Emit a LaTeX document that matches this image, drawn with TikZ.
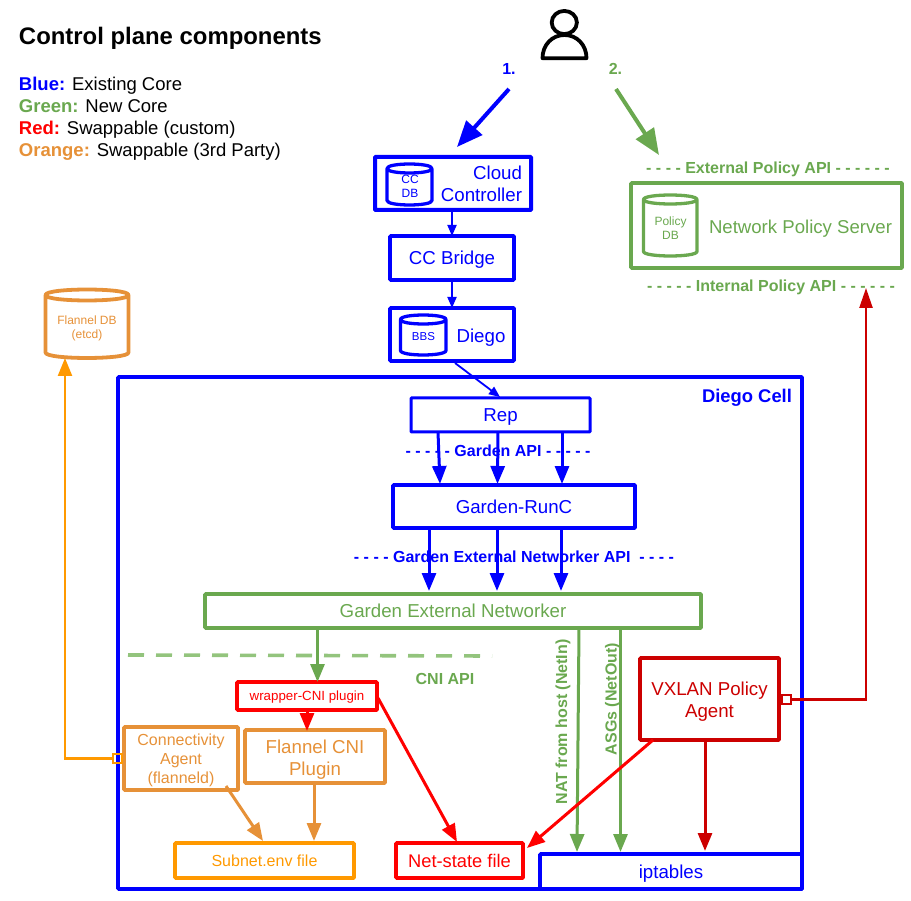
\documentclass[tikz,border=0pt]{standalone}
\usepackage{fontspec}
\setmainfont{Liberation Sans}
\usetikzlibrary{arrows.meta,calc}
\definecolor{cblue}{HTML}{0000FF}
\definecolor{cgreen}{HTML}{6AA84F}
\definecolor{lgreen}{HTML}{93C47D}
\definecolor{cred}{HTML}{FF0000}
\definecolor{dred}{HTML}{CC0000}
\definecolor{corange}{HTML}{E69138}
\definecolor{cgold}{HTML}{FF9900}
\newcommand\fs[1]{\fontsize{#1}{#1}\selectfont}
\tikzset{
  box/.style={draw=#1,text=#1,rectangle,inner sep=0pt,outer sep=0pt,anchor=north west,align=center,line width=3.6pt,rounded corners=0.8pt,font=\fs{18.7}},
  capc/.style={text height=#1pt,text depth=0pt},
  lbl/.style={text=#1,inner sep=0pt,outer sep=0pt,align=center},
  api/.style={lbl=#1,font=\fs{16}\bfseries},
  arrbig/.style={#1,line width=4pt,-{Triangle[length=26pt,width=21pt]}},
  arrmid/.style={#1,line width=3pt,-{Triangle[length=18pt,width=14pt]}},
  arrtiny/.style={#1,line width=1.8pt,-{Triangle[length=11pt,width=9pt]}},
}
% name x1 y1 x2 y2 ry colour
\newcommand\dbcyl[8]{%
  \pgfmathsetmacro\cyt{#3+#6}\pgfmathsetmacro\cyb{#5-#6}
  \pgfmathsetmacro\cyu{#3+#6-1.33*#6}\pgfmathsetmacro\cyl{#3+#6+1.33*#6}
  \pgfmathsetmacro\cyd{#5-#6+1.33*#6}
  \draw[draw=#7,line width=#8,line join=round]
    (#2,\cyt) .. controls (#2,\cyu) and (#4,\cyu) .. (#4,\cyt)
    .. controls (#4,\cyl) and (#2,\cyl) .. (#2,\cyt)
    -- (#2,\cyb) .. controls (#2,\cyd) and (#4,\cyd) .. (#4,\cyb) -- (#4,\cyt);
  \path (#2,#3) coordinate (#1nw) (#4,#5) coordinate (#1se);
}
\begin{document}
\begin{tikzpicture}[x=1pt,y=-1pt]
\useasboundingbox (0,0) rectangle (911,901);
% outer cell
\node[box=cblue,minimum width=684pt,minimum height=512pt] (cell) at (118,377) {};
% boxes
\node[box=cblue,line width=4pt,minimum width=156pt,minimum height=53pt] (cc) at (375,157) {};
\node[box=cblue,capc=13.4,minimum width=124pt,minimum height=44pt] (bridge) at (390,236) {CC Bridge};
\node[box=cblue,minimum width=124pt,minimum height=53pt] (diego) at (390,308) {};
\node[box=cblue,capc=13.4,line width=3pt,minimum width=179pt,minimum height=34pt] (rep) at (411,398) {Rep};
\node[box=cblue,capc=13.4,minimum width=242pt,minimum height=43pt] (garden) at (393,485) {Garden-RunC};
\node[box=cgreen,capc=13.4,minimum width=496pt,minimum height=34pt] (gen) at (205,594) {Garden External Networker};
\node[box=cred,capc=9.5,font=\fs{13.3},minimum width=140pt,minimum height=28pt] (wrapper) at (237,682) {wrapper-CNI plugin};
\node[box=corange,minimum width=140pt,minimum height=53pt] (flannel) at (245,730) {};
\node[box=corange,minimum width=114pt,minimum height=63pt] (conn) at (124,727) {};
\node[box=cgold,capc=11.5,font=\fs{16},minimum width=179pt,minimum height=35pt] (subnet) at (175,843) {Subnet.env file};
\node[box=cred,capc=13.1,font=\fs{18.3},minimum width=127pt,minimum height=35pt] (netstate) at (396,843) {Net-state file};
\node[box=cblue,capc=13.4,minimum width=262pt,minimum height=35pt] (ipt) at (540,854) {iptables};
\node[box=dred,minimum width=139pt,minimum height=82pt] (vxlan) at (640,658) {};
\node[box=cgreen,minimum width=271pt,minimum height=85pt] (nps) at (631,183) {};
% box texts
\node[lbl=cblue,font=\fs{18.7},align=right,anchor=north east] (cctext) at (522,166) {Cloud\\[3.3pt]Controller};
\node[lbl=cblue,font=\fs{18.7}] (diegotext) at (481,338) {Diego};
\node[lbl=cgreen,font=\fs{18.6}] (npstext) at (800.5,229) {Network Policy Server};
\node[lbl=corange,font=\fs{18.7}] (flanneltext) at ($(flannel.center)+(0,3.5)$) {Flannel CNI\\[3.3pt]Plugin};
\node[lbl=corange,font=\fs{16}] (conntext) at ($(conn.center)+(0,2)$) {Connectivity\\[3pt]Agent\\[3pt](flanneld)};
\node[lbl=dred,font=\fs{18.7}] (vxlantext) at ($(vxlan.center)+(0,3)$) {VXLAN Policy\\[3.3pt]Agent};
% cylinders
\dbcyl{ccdb}{387}{164}{432}{205}{4.5}{cblue}{3.3pt}
\dbcyl{bbs}{400.5}{315}{446}{355}{4.5}{cblue}{3.3pt}
\dbcyl{pdb}{643.5}{195}{697}{256}{4.5}{cgreen}{3.3pt}
\dbcyl{fdb}{45.5}{289.5}{128.5}{358}{5.5}{corange}{3.8pt}
\node[lbl=cblue,font=\fs{12}] (ccdbt) at (410,186) {CC\\[2pt]DB};
\node[lbl=cblue,font=\fs{11.5}] (bbst) at (423.5,337) {BBS};
\node[lbl=cgreen,font=\fs{12}] (pdbt) at (670.5,228) {Policy\\[2pt]DB};
\node[lbl=corange,font=\fs{12}] (fdbt) at (87,328) {Flannel DB\\[2pt](etcd)};
% person
\coordinate (userl) at (509,89);
\coordinate (userr) at (616,89);
\draw[line width=3.8pt,line join=round] (564.3,22.5) ellipse [x radius=12.6,y radius=11.6];
\draw[line width=3.8pt,line join=round] (542.5,58.2) .. controls (542.5,45) and (552,35) .. (564.5,35) .. controls (577,35) and (586.5,45) .. (586.5,58.2) -- cycle;
% connectors
\coordinate (cctop) at (457,147);
\coordinate (npstop) at (659,155);
\draw[arrbig=cblue] (userl) -- (cctop);
\draw[arrbig=cgreen] (userr) -- (npstop);
\draw[arrtiny=cblue] (bridge.north |- cc.south) -- (bridge.north);
\draw[arrtiny=cblue] (bridge.south) -- (diego.north);
\draw[arrtiny=cblue] ($(diego.south west)+(65,2)$) -- ($(rep.north west)+(89,-1)$);
\draw[arrmid=cblue] ($(rep.south west)+(27,0)$) -- ($(garden.north west)+(47,-1)$);
\draw[arrmid=cblue] ($(rep.south west)+(87,0)$) -- ($(garden.north west)+(104.5,-1)$);
\draw[arrmid=cblue] ($(rep.south west)+(151,0)$) -- ($(garden.north west)+(169,-1)$);
\draw[arrmid=cblue] ($(garden.south west)+(36,0)$) -- ($(gen.north west)+(224,-3)$);
\draw[arrmid=cblue] ($(garden.south west)+(104,0)$) -- ($(gen.north west)+(292,-3)$);
\draw[arrmid=cblue] ($(garden.south west)+(168,0)$) -- ($(gen.north west)+(356,-3)$);
\draw[arrmid=cgreen] ($(gen.south west)+(112.5,0)$) -- ($(wrapper.north west)+(80.5,0)$);
\draw[arrmid=cred] ($(wrapper.south west)+(70,0)$) -- ($(flannel.north west)+(62,1)$);
\draw[arrmid=cred] ($(wrapper.south east)+(1,-12)$) -- ($(netstate.north west)+(61,-1)$);
\draw[arrmid=corange] ($(conn.south east)+(-12,-4)$) -- ($(subnet.north west)+(88,-2)$);
\draw[arrmid=corange] ($(flannel.south west)+(69,0)$) -- ($(subnet.north west)+(139,-2)$);
\draw[arrmid=cgreen] ($(gen.south west)+(374,0)$) -- ($(ipt.north west)+(37,-2)$);
\draw[arrmid=cgreen] ($(gen.south west)+(415.5,0)$) -- ($(ipt.north west)+(80.5,-2)$);
\draw[arrmid=cred] ($(vxlan.south west)+(13,0)$) -- ($(netstate.north east)+(4,5)$);
\draw[arrmid=dred] ($(vxlan.south west)+(65,-2)$) -- ($(ipt.north west)+(165,-3)$);
% side connectors with lollipop squares
\node[draw=cgold,line width=2pt,minimum size=9pt,inner sep=0pt,outer sep=0pt] (sqa) at (117.5,758.5) {};
\node[draw=dred,line width=2pt,minimum size=9pt,inner sep=0pt,outer sep=0pt] (sqb) at (786,699.5) {};
\coordinate (fdbin) at (65,358);
\coordinate (ipin) at (866,288);
\draw[arrmid=cgold,line width=2.4pt] (sqa.west) -| (fdbin);
\draw[dred,line width=2.4pt,-{Triangle[length=20pt,width=13pt]}] (sqb.east) -| (ipin);
% CNI dashed
\coordinate (cnia) at (128,655);
\coordinate (cnib) at (492,656);
\draw[lgreen,line width=3.6pt,dash pattern=on 16pt off 12pt] (cnia) -- (cnib);
% labels
\node[lbl=black,font=\fs{23.9}\bfseries,anchor=west] (title) at (19,38.5) {Control plane components};
\node[lbl=black,font=\fs{18.5},anchor=north west,align=left] (legend) at (19,77) {\textcolor{cblue}{\bfseries Blue:} Existing Core\\[3.5pt]\textcolor{cgreen}{\bfseries Green:} New Core\\[3.5pt]\textcolor{cred}{\bfseries Red:} Swappable (custom)\\[3.5pt]\textcolor{corange}{\bfseries Orange:} Swappable (3rd Party)};
\node[api=cblue] (one) at (509,69) {1.};
\node[api=cgreen] (two) at (615.5,69) {2.};
\node[api=cgreen] (extapi) at (768,169) {- - - - External Policy API - - - - - -};
\node[api=cgreen] (intapi) at (771,287) {- - - - - Internal Policy API - - - - - -};
\node[lbl=cblue,font=\fs{18.4}\bfseries] (celllbl) at (747,398) {Diego Cell};
\node[api=cblue] (gapi) at (498,451) {- - - - - Garden API - - - - -};
\node[api=cblue] (geapi) at (514,557) {- - - - Garden External Networker API \ - - - -};
\node[api=cgreen] (cni) at (445,679) {CNI API};
\node[api=cgreen,rotate=90] (nat) at (563,722) {NAT from host (NetIn)};
\node[api=cgreen,rotate=90] (asg) at (612.5,699) {ASGs (NetOut)};
\end{tikzpicture}
\end{document}
